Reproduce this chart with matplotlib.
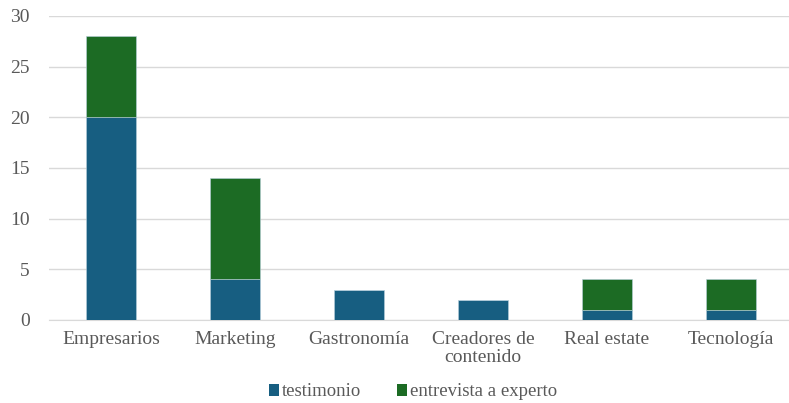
import numpy as np
import matplotlib.pyplot as plt
from matplotlib.patches import Patch

plt.rcParams['font.family'] = ['Liberation Serif', 'DejaVu Serif']

categorias = ["Empresarios", "Marketing", "Gastronomía", "Creadores de\ncontenido", "Real estate", "Tecnología"]
testimonio = [20, 4, 3, 2, 1, 1]
entrevista = [8, 10, 0, 0, 3, 3]

azul = "#175e81"
verde = "#1c6b24"
gris = "#595959"

fig = plt.figure(figsize=(7.89, 4.03), dpi=100)
ax = fig.add_axes([49/789, 83/403, 744/789, 304/403])

x = np.arange(len(categorias))
ax.bar(x, testimonio, width=0.4, color=azul, edgecolor="#b8cfdc", linewidth=0.4, zorder=3)
ax.bar(x, entrevista, width=0.4, bottom=testimonio, color=verde, edgecolor="#b8cfdc", linewidth=0.4, zorder=3)

ax.set_xlim(-0.5, len(categorias) - 0.5)
ax.set_ylim(0, 30)
ax.set_yticks(range(0, 31, 5))
ax.set_xticks(x)
ax.set_xticklabels(categorias, fontsize=14, color=gris, linespacing=1.05)
ax.tick_params(axis='y', labelsize=14, colors=gris, length=0, pad=14)
ax.tick_params(axis='x', length=0, pad=8)
ax.grid(axis='y', color="#d9d9d9", linewidth=1.0, zorder=0)
for s in ["top", "right", "left"]:
    ax.spines[s].set_visible(False)
ax.spines["bottom"].set_color("#d9d9d9")

leyenda = [Patch(facecolor=azul, label="testimonio"),
           Patch(facecolor=verde, label="entrevista a experto")]
fig.legend(handles=leyenda, loc="center", bbox_to_anchor=(413/789, 1 - 392/403), ncol=2,
           frameon=False, fontsize=13.5, labelcolor=gris, handlelength=0.55, handleheight=0.55,
           handletextpad=0.15, columnspacing=1.9)

fig.savefig("out.png", dpi=100)
